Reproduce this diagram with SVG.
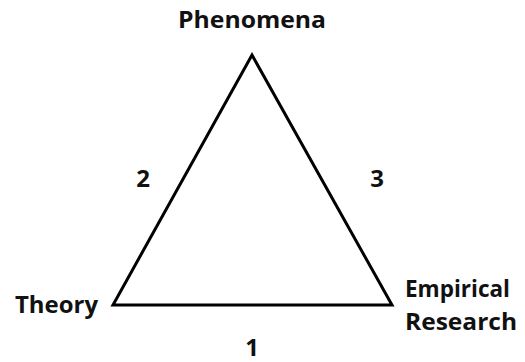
<svg xmlns="http://www.w3.org/2000/svg" width="525" height="362" viewBox="0 0 525 362">
<style>
.t{font-family:"Open Sans","Liberation Sans",sans-serif;font-weight:bold;font-size:24px;fill:#111}
.e{fill:none;stroke:#000;stroke-width:3;stroke-linejoin:miter}
</style>
<rect width="525" height="362" fill="#fff"/>
<g id="connectors">
<polygon class="e" points="252,55 113,305 392,305"/>
</g>
<g id="phenomena"><text class="t" x="252" y="28" text-anchor="middle" textLength="148" lengthAdjust="spacingAndGlyphs">Phenomena</text></g>
<g id="theory"><text class="t" x="15" y="313" textLength="83" lengthAdjust="spacingAndGlyphs">Theory</text></g>
<g id="empirical"><text class="t" x="405" y="297" textLength="105" lengthAdjust="spacingAndGlyphs">Empirical</text><text class="t" x="405" y="330" textLength="112" lengthAdjust="spacingAndGlyphs">Research</text></g>
<g id="label1"><text class="t" x="252" y="356" text-anchor="middle">1</text></g>
<g id="label2"><text class="t" x="143" y="187" text-anchor="middle">2</text></g>
<g id="label3"><text class="t" x="377" y="187" text-anchor="middle">3</text></g>
</svg>
